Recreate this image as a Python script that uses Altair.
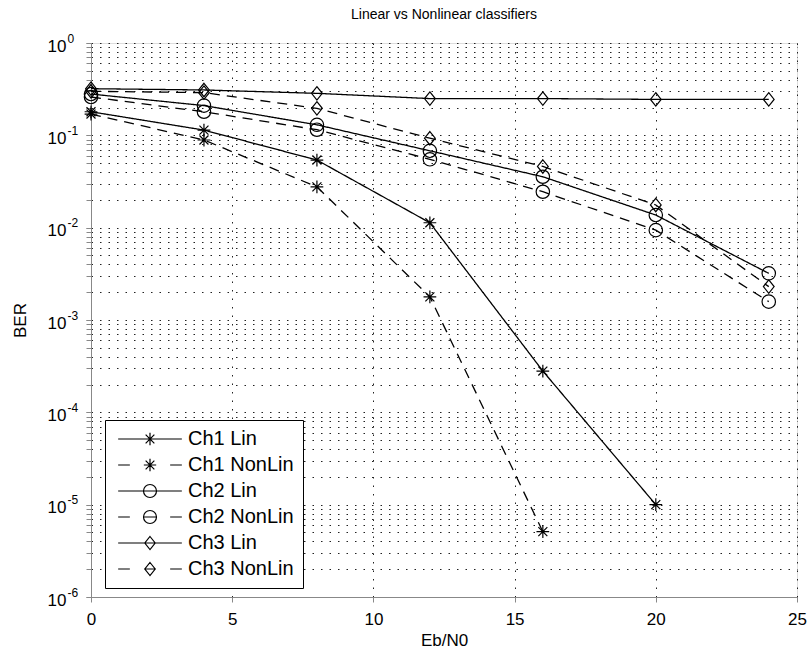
import altair as alt
import pandas as pd

# ---- data ----
ebn0 = [0, 4, 8, 12, 16, 20, 24]
series_names = ["Ch1 Lin", "Ch1 NonLin", "Ch2 Lin", "Ch2 NonLin", "Ch3 Lin", "Ch3 NonLin"]
ch1_lin = [0.18, 0.114, 0.054, 0.0113, 2.8e-4, 1.0e-5, None]
ch1_nonlin = [0.17, 0.089, 0.0277, 0.00178, 5.1e-6, None, None]
ch2_lin = [0.28, 0.21, 0.13, 0.068, 0.0356, 0.0137, 0.0032]
ch2_nonlin = [0.26, 0.18, 0.115, 0.055, 0.0245, 0.0094, 0.00158]
ch3_lin = [0.32, 0.31, 0.285, 0.25, 0.25, 0.245, 0.245]
ch3_nonlin = [0.30, 0.29, 0.196, 0.093, 0.046, 0.0176, 0.0023]

x_ticks = [0, 5, 10, 15, 20, 25]
y_exponents = [-6, -5, -4, -3, -2, -1, 0]
exp_labels = ["-6", "-5", "-4", "-3", "-2", "-1", "0"]

# ---- build long table ----
all_series = [ch1_lin, ch1_nonlin, ch2_lin, ch2_nonlin, ch3_lin, ch3_nonlin]
rows = []
for name, vals in zip(series_names, all_series):
    for x, v in zip(ebn0, vals):
        if v is not None:
            rows.append({"EbN0": x, "BER": v, "series": name})
df = pd.DataFrame(rows)

powers = [10.0 ** e for e in y_exponents]
minor_vals = [k * 10.0 ** e for e in y_exponents[:-1] for k in range(1, 10)] + [1.0]

# marker paths (MATLAB style, unfilled)
star = "M0,-0.95V0.95M-0.95,0H0.95M-0.67,-0.67L0.67,0.67M-0.67,0.67L0.67,-0.67"
circle = "M1,0A1,1,0,1,1,-1,0A1,1,0,1,1,1,0Z"
diamond = "M0,-1L0.8,0L0,1L-0.8,0Z"
markers = [star, star, circle, circle, diamond, diamond]
solid_seg = "M-4.9,0H4.9"
dash_seg = "M-4.9,0H-3.1M-0.9,0H0.9M3.1,0H4.9"
legend_paths = [
    (solid_seg if "NonLin" not in n else dash_seg) + m
    for n, m in zip(series_names, markers)
]
dashes = [[1, 0] if "NonLin" not in n else [10, 7] for n in series_names]

FONT = "Liberation Sans"
is_pow = "abs(log(datum.value)/LN10 - round(log(datum.value)/LN10)) < 0.001"
exp_arr = "[" + ",".join("'" + s + "'" for s in exp_labels) + "]"

yscale = alt.Scale(type="log", domain=[1e-6, 1])
xscale = alt.Scale(domain=[0, 25], nice=False, zero=False)

x_axis = alt.Axis(
    values=x_ticks, grid=True, gridDash=[1.5, 7], gridColor="#222", gridWidth=1,
    labelFontSize=17, labelPadding=9, labelFlush=False, title="Eb/N0", titleFontSize=17,
    titleFontWeight="normal", titleY=43, titleBaseline="middle",
)

base_y_axis = alt.Axis(
    orient="left", values=minor_vals, labelExpr=is_pow + " ? '10' : ''",
    grid=True, gridDash=[1.5, 7], gridColor="#222", gridWidth=1,
    labelFontSize=17, labelPadding=20, labelAlign="right", labelBaseline="middle",
    labelOffset=3, labelOverlap=False, labelBound=False, labelFlush=False,
    title="BER", titleFontSize=17, titleFontWeight="normal",
    titleX=-71, titleY=277, titleAngle=270, titleAlign="center", titleBaseline="middle",
)

exp_y_axis = alt.Axis(
    orient="left", values=powers,
    labelExpr=is_pow + " ? " + exp_arr + "[round(log(datum.value)/LN10)+6] : ''",
    grid=False, labelFontSize=12, labelPadding=19, labelAlign="left",
    labelBaseline="middle", labelOffset=-5, labelOverlap=False, labelBound=False,
    labelFlush=False, title=None,
)

base = alt.Chart(df)

lines = base.mark_line(color="black", strokeWidth=1.3).encode(
    x=alt.X("EbN0:Q", scale=xscale, axis=x_axis),
    y=alt.Y("BER:Q", scale=yscale, axis=base_y_axis),
    strokeDash=alt.StrokeDash(
        "series:N", scale=alt.Scale(domain=series_names, range=dashes), legend=None
    ),
)

points = base.mark_point(filled=False, color="black", strokeWidth=1.2, size=180, opacity=1).encode(
    x=alt.X("EbN0:Q", scale=xscale, axis=x_axis),
    y=alt.Y("BER:Q", scale=yscale, axis=exp_y_axis),
    shape=alt.Shape(
        "series:N", scale=alt.Scale(domain=series_names, range=markers), legend=None
    ),
)

legend_layer = base.mark_point(filled=False, color="black", strokeWidth=1.2, size=169, opacity=0).encode(
    x=alt.X("EbN0:Q", scale=xscale, axis=x_axis),
    y=alt.Y("BER:Q", scale=yscale, axis=None),
    shape=alt.Shape(
        "series:N",
        scale=alt.Scale(domain=series_names, range=legend_paths),
        title=None,
        legend=alt.Legend(
            orient="none", legendX=14, legendY=377, padding=9,
            fillColor="white", strokeColor="black", cornerRadius=0,
            symbolSize=169, symbolStrokeColor="black", symbolStrokeWidth=1.2,
            symbolFillColor="transparent", symbolOpacity=1,
            symbolOffset=26, labelOffset=28, rowPadding=6,
            labelFont=FONT, labelFontSize=20, labelColor="black", labelLimit=300,
        ),
    ),
)

chart = (
    alt.layer(lines, points, legend_layer)
    .resolve_scale(shape="independent")
    .resolve_axis(y="independent")
    .properties(
        width=706, height=554, autosize="none",
        padding={"left": 91, "top": 43, "right": 14, "bottom": 57},
        title=alt.TitleParams(
            "Linear vs Nonlinear classifiers", fontSize=14, fontWeight="normal",
            font=FONT, color="black", offset=10, anchor="middle",
        ),
    )
    .configure_view(stroke="black", strokeWidth=1.5)
    .configure_axis(
        labelFont=FONT, titleFont=FONT, labelColor="black", titleColor="black",
        domain=False, ticks=False,
    )
    .configure(background="white")
)

chart.save("out.html", embed_options={"renderer": "svg", "actions": False})
